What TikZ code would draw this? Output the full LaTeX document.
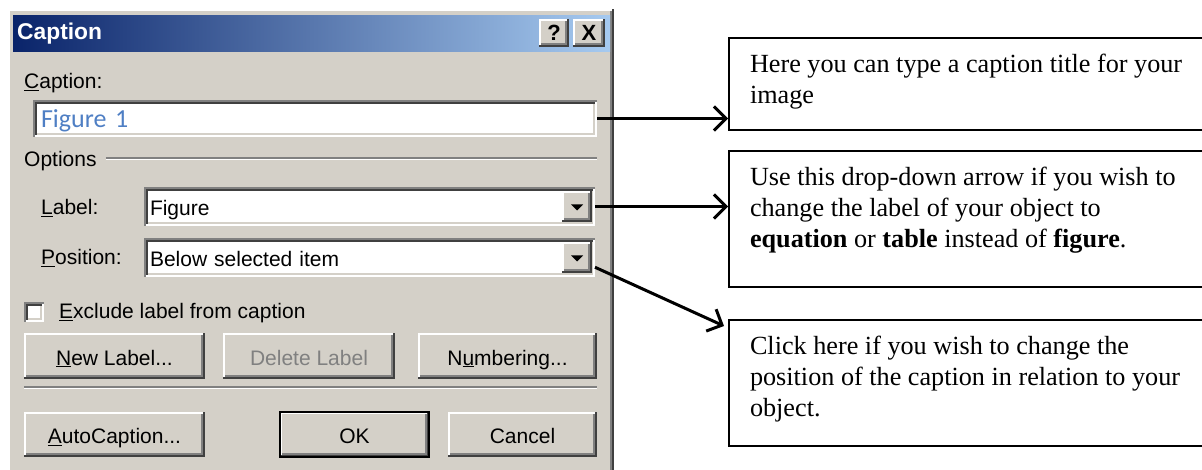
\documentclass[tikz,border=0pt]{standalone}
\usepackage{fontspec}
\setmainfont{Liberation Serif}
\newfontfamily\dlgfont{Liberation Sans}
\newfontfamily\fieldfont{Carlito}
\usetikzlibrary{arrows.meta,calc}

\definecolor{face}{HTML}{D4D0C8}
\definecolor{shade}{HTML}{808080}
\definecolor{dkshade}{HTML}{404040}
\definecolor{titleA}{HTML}{0A246A}
\definecolor{titleB}{HTML}{A6CAF0}
\definecolor{figblue}{HTML}{4F7FC4}

\newcommand{\ak}[1]{\underline{#1}}

\tikzset{
    bevel/.style={fill=none, draw=#1, line width=2pt},
    raised/.style={fill=face, inner sep=0pt, outer sep=0pt, path picture={
        \coordinate (bsw) at (path picture bounding box.south west);
        \coordinate (bne) at (path picture bounding box.north east);
        \path[bevel=white] ([xshift=1pt]bsw) |- ([yshift=-1pt]bne);
        \path[bevel=dkshade] ([yshift=1pt]bsw) -| ([xshift=-1pt]bne);
        \path[bevel=shade] ([shift={(2pt,3pt)}]bsw) -| ([shift={(-3pt,-2pt)}]bne);
    }},
    sunken/.style={fill=white, inner sep=0pt, outer sep=0pt, path picture={
        \coordinate (bsw) at (path picture bounding box.south west);
        \coordinate (bne) at (path picture bounding box.north east);
        \path[bevel=white] ([yshift=1pt]bsw) -| ([xshift=-1pt]bne);
        \path[bevel=face] ([shift={(2pt,3pt)}]bsw) -| ([shift={(-3pt,-2pt)}]bne);
        \path[bevel=shade] ([xshift=1pt]bsw) |- ([yshift=-1pt]bne);
        \path[bevel=dkshade] ([shift={(3pt,2pt)}]bsw) |- ([shift={(-2pt,-3pt)}]bne);
    }},
    etch/.style={line width=1.2pt, draw=#1},
    dlg/.style={font=\dlgfont\fontsize{21}{25}\selectfont, text height=22pt, text depth=4pt},
    lbl/.style={dlg, anchor=base west, inner sep=0pt},
    btn/.style={raised, dlg, anchor=north west},
    field/.style={sunken, dlg, anchor=north west, align=left, inner xsep=6pt},
    note/.style={draw, line width=2pt, anchor=north west, inner xsep=21pt, inner ysep=16pt,
        font=\fontsize{26.2}{31}\selectfont},
    arr/.style={line width=3pt, -{Straight Barb[length=12pt,width=24pt]}}
}

\begin{document}
\begin{tikzpicture}[x=1pt, y=-1pt]
            \useasboundingbox (0,0) rectangle (1202,470);
            \clip (0,0) rectangle (1202,470);

            % draw dialog window and title bar
                \node[raised, anchor=north west, minimum width=606pt, minimum height=480pt] (dialog) at (8,9) {};
                \node[anchor=north west, minimum width=597pt, minimum height=36pt, inner sep=0pt, inner xsep=4pt,
                    left color=titleA, right color=titleB, text=white, text width=589pt, align=left,
                    font=\dlgfont\bfseries\fontsize{22.8}{26}\selectfont] (titlebar) at (13,15) {Caption};
                \node[btn, minimum width=30pt, minimum height=28pt, font=\dlgfont\bfseries\fontsize{22}{25}\selectfont,
                    text height=15pt, text depth=0pt] (helpbtn) at (539,19) {?};
                \node[btn, minimum width=32pt, minimum height=28pt, font=\dlgfont\bfseries\fontsize{22}{25}\selectfont,
                    text height=15pt, text depth=0pt] (closebtn) at (573,19) {X};

            % caption field
                \node[lbl] (caplbl) at (24,89) {\ak{C}aption:};
                \node[field, minimum height=37pt, text width=548pt, inner xsep=8pt, text=figblue,
                    font=\fieldfont\fontsize{26}{30}\selectfont, text height=22pt, text depth=3pt] (capfield) at (33,100) {Figure 1};

            % options group
                \node[lbl] (optlbl) at (24,167) {Options};
                \draw[etch=shade] ([xshift=9pt]optlbl.east) -- (optlbl.east -| capfield.east);
                \draw[etch=white] ($([xshift=9pt]optlbl.east)+(0,1.2)$) -- ($(optlbl.east -| capfield.east)+(0,1.2)$);

                \node[lbl] (labellbl) at (41,215) {\ak{L}abel:};
                \node[field, minimum width=451pt, minimum height=39pt, text width=439pt] (labelbox) at (144,187) {Figure};
                \node[btn, minimum width=30pt, minimum height=31pt] (labeldrop) at (562,191) {};

                \node[lbl] (poslbl) at (41,265) {\ak{P}osition:};
                \node[field, minimum width=451pt, minimum height=39pt, text width=439pt] (posbox) at (144,238) {Below selected item};
                \node[btn, minimum width=30pt, minimum height=31pt] (posdrop) at (562,242) {};

                \foreach \d in {labeldrop, posdrop}
                    \fill ([shift={(-6pt,2pt)}]\d.center) -- ++(12,0) -- ++(-6,6) -- cycle;

            % checkbox and buttons
                \node[sunken, anchor=north west, minimum size=20pt] (chk) at (24,302) {};
                \node[lbl] (chklbl) at (59,319) {\ak{E}xclude label from caption};

                \node[btn, minimum width=181pt, minimum height=46pt] (newbtn) at (24,333) {\ak{N}ew Label...};
                \node[btn, minimum width=172pt, minimum height=46pt, text=shade] (delbtn) at (223,333) {Delete Label};
                \node[btn, minimum width=179pt, minimum height=46pt] (numbtn) at (418,333) {N\ak{u}mbering...};

                \draw[etch=shade] ($(newbtn.south west)+(0,8)$) -- ($(numbtn.south east)+(0,8)$);
                \draw[etch=white] ($(newbtn.south west)+(0,9.2)$) -- ($(numbtn.south east)+(0,9.2)$);

                \node[btn, minimum width=181pt, minimum height=45pt] (autobtn) at (24,412) {\ak{A}utoCaption...};
                \node[btn, minimum width=149pt, minimum height=45pt, draw=black, line width=1.5pt] (okbtn) at (280,412) {OK};
                \node[btn, minimum width=149pt, minimum height=45pt] (cancelbtn) at (448,412) {Cancel};

            % callout notes
                \node[note] (note1) at (728,37) {\parbox[t][60pt][t]{450pt}{Here you can type a caption title for your\\image}};
                \node[note] (note2) at (728,150) {\parbox[t][104pt][t]{450pt}{Use this drop-down arrow if you wish to\\change the label of your object to\\\textbf{equation} or \textbf{table} instead of \textbf{figure}.}};
                \node[note] (note3) at (728,319) {\parbox[t][94pt][t]{450pt}{Click here if you wish to change the\\position of the caption in relation to your\\object.}};

            % arrows
                \draw[arr] (capfield.east) -- (capfield.east -| note1.west);
                \draw[arr] (labelbox.east) -- (labelbox.east -| note2.west);
                \draw[arr] ($(posbox.east)!0.5!(posbox.south east)$) -- ([shift={(-4pt,-7pt)}]note3.north west);
\end{tikzpicture}
\end{document}
